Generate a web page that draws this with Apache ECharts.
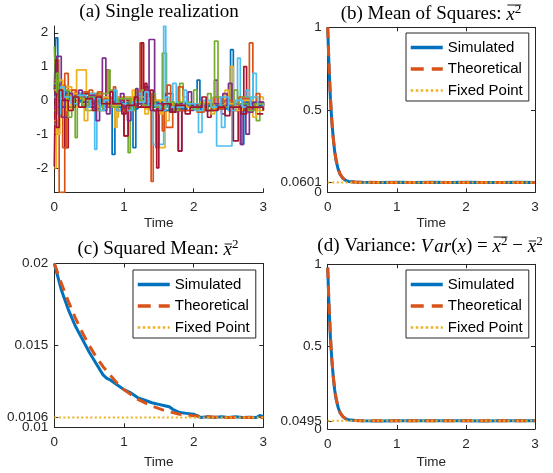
<!DOCTYPE html>
<html><head><meta charset="utf-8">
<script src="https://cdn.jsdelivr.net/npm/echarts@6/dist/echarts.min.js"></script>
<style>html,body{margin:0;padding:0;background:#fff}#c{width:553px;height:473px}</style>
</head><body><div id="c"></div>
<script>
// ---------- Panel (a): realizations (step data [time, value]) ----------
const realBlue1 = [[0,0.3],[0.02,1.85],[0.05,0.4],[0.15,0.1],[0.3,0.2],[0.45,0.0],[0.6,-0.1],[0.7,0.05],[0.83,-1.6],[0.87,-0.1],[1.0,-0.05],[1.13,-1.4],[1.17,-0.2],[1.4,-0.3],[1.46,-1.4],[1.5,-0.2],[1.7,-0.15],[2.05,0.6],[2.09,-0.15],[2.3,-0.1],[2.53,1.5],[2.57,-0.2],[2.68,-1.3],[2.72,-0.1],[3,-0.1]];
const realOrange1 = [[0,0.4],[0.07,-2.72],[0.15,0.8],[0.2,0.3],[0.3,0.1],[0.5,0.3],[0.55,0.0],[0.75,0.9],[0.79,0.1],[1.0,-1.05],[1.06,-0.1],[1.23,1.7],[1.28,-0.2],[1.39,-2.4],[1.42,-0.3],[1.6,-0.8],[1.7,-0.1],[1.9,-0.2],[2.2,-0.1],[2.8,1.7],[2.85,-0.1],[3,-0.05]];
const realYellow1 = [[0,-2.0],[0.03,1.2],[0.07,0.0],[0.2,0.3],[0.32,0.9],[0.46,0.2],[0.6,0.0],[0.87,-0.8],[0.9,-0.1],[1.15,0.3],[1.2,0.0],[1.47,-1.4],[1.59,-0.2],[1.8,-0.1],[2.2,-0.3],[2.3,-0.1],[2.52,1.0],[2.57,-0.1],[2.8,0.1],[3,0.0]];
const realPurple1 = [[0,0.3],[0.03,1.3],[0.1,0.2],[0.25,0.1],[0.5,-0.1],[0.69,1.25],[0.74,0.0],[0.9,-0.2],[1.1,0.1],[1.36,1.8],[1.44,-0.1],[1.6,-0.2],[1.78,-1.5],[1.83,-0.2],[2.1,-0.1],[2.3,0.6],[2.34,-0.2],[2.5,0.5],[2.55,-0.1],[2.67,-1.3],[2.71,-0.1],[3,-0.1]];
const realGreen1 = [[0,1.6],[0.02,0.4],[0.1,0.1],[0.3,-1.1],[0.33,0.0],[0.5,0.2],[0.77,0.9],[0.8,0.0],[1.06,-1.55],[1.09,-0.1],[1.3,-0.2],[1.55,1.4],[1.61,-0.1],[1.8,0.5],[1.85,-0.2],[2.1,-0.1],[2.3,1.75],[2.35,-0.2],[2.6,-0.1],[2.9,-0.6],[2.95,-0.2],[3,-0.1]];
const realCyan1 = [[0,-0.2],[0.05,0.3],[0.15,0.0],[0.3,0.2],[0.58,-1.45],[0.61,0.0],[0.8,-0.2],[1.0,0.1],[1.2,-0.2],[1.42,-1.3],[1.57,2.2],[1.6,-0.2],[1.8,-0.1],[2.07,-0.95],[2.12,-0.1],[2.33,-1.35],[2.55,-0.1],[2.63,1.25],[2.67,0.0],[2.85,0.8],[2.9,-0.1],[3,-0.1]];
const realRed1 = [[0,-1.95],[0.02,1.2],[0.05,0.2],[0.15,-1.4],[0.2,0.1],[0.4,0.2],[0.5,-0.1],[0.9,0.0],[1.0,-1.05],[1.06,-0.2],[1.25,1.7],[1.28,-0.1],[1.47,-2.0],[1.5,-0.2],[1.78,-1.5],[1.83,-0.2],[2.1,-0.3],[2.3,-0.2],[2.57,-1.2],[2.64,-0.3],[2.72,1.0],[2.76,-0.2],[2.9,-0.4],[3,-0.4]];
const realBlue2 = [[0,0.2],[0.1,0.15],[0.2,0.1],[0.3,0.05],[0.4,0.0],[0.5,-0.02],[0.6,-0.05],[0.8,-0.08],[1.0,-0.1],[1.2,-0.12],[1.4,-0.15],[1.6,-0.18],[1.8,-0.2],[2.0,-0.18],[2.2,-0.15],[2.4,-0.12],[2.6,-0.1],[2.8,-0.08],[3,-0.05]];
const realOrange2 = [[0,0.1],[0.12,-1.4],[0.18,0.2],[0.3,0.0],[0.62,0.25],[0.68,-0.2],[0.9,-0.3],[1.15,0.1],[1.2,-0.1],[1.55,-0.9],[1.58,-0.2],[1.78,0.4],[1.85,-0.1],[2.3,0.1],[2.35,-0.2],[2.6,-0.3],[2.65,0.1],[2.75,-0.1],[2.9,0.2],[2.95,-0.1],[3,-0.1]];
const realYellow2 = [[0,-0.6],[0.05,-1.0],[0.08,0.4],[0.25,-0.2],[0.4,0.1],[0.55,-0.3],[0.7,0.0],[0.88,-0.5],[0.92,0.1],[1.3,-0.4],[1.35,0.0],[1.6,-0.6],[1.65,-0.1],[2.05,-0.3],[2.15,-0.1],[2.45,0.3],[2.5,-0.1],[2.9,-0.3],[3,-0.2]];
const realPurple2 = [[0,-0.2],[0.1,-0.5],[0.2,0.1],[0.4,-0.2],[0.6,-0.6],[0.65,0.0],[0.9,-0.3],[1.05,-0.6],[1.1,0.0],[1.3,0.4],[1.35,-0.2],[1.6,0.2],[1.7,-0.3],[2.0,-0.1],[2.4,-0.4],[2.45,-0.1],[2.75,-1.0],[2.8,-0.2],[3,-0.3]];
const realGreen2 = [[0,0.5],[0.05,0.0],[0.2,-0.5],[0.25,0.1],[0.45,-0.3],[0.55,0.0],[0.8,0.3],[0.85,-0.1],[1.25,0.3],[1.3,-0.1],[1.5,-0.2],[1.75,-0.1],[2.0,0.3],[2.05,-0.1],[2.2,0.2],[2.25,-0.2],[2.7,0.1],[2.8,-0.2],[3,-0.2]];
const realCyan2 = [[0,-0.7],[0.03,0.2],[0.2,0.1],[0.4,-0.1],[0.7,0.1],[0.9,-0.3],[0.95,0.0],[1.2,0.2],[1.25,-0.1],[1.7,0.5],[1.75,-0.2],[2.0,-0.1],[2.4,-0.8],[2.45,-0.1],[2.75,0.3],[2.8,-0.2],[3,-0.2]];
const realRed2 = [[0,0.0],[0.1,-0.2],[0.3,0.1],[0.5,-0.2],[0.7,-0.3],[0.75,0.0],[1.1,-0.2],[1.3,0.5],[1.33,-0.2],[1.55,-0.3],[1.9,-0.2],[2.2,-0.5],[2.25,-0.2],[2.5,-0.3],[2.8,-0.1],[3,-0.2]];
const realBlue3 = [[0,0.15],[0.05,0.35],[0.1,0.1],[0.15,0.25],[0.22,0.05],[0.3,0.15],[0.38,-0.05],[0.45,0.1],[0.55,-0.1],[0.62,0.05],[0.7,-0.15],[0.8,-0.05],[0.9,-0.2],[1.0,-0.1],[1.1,-0.25],[1.2,-0.1],[1.3,-0.2],[1.45,-0.05],[1.55,-0.3],[1.65,-0.15],[1.75,-0.25],[1.9,-0.1],[2.0,-0.2],[2.1,-0.3],[2.2,-0.15],[2.35,-0.25],[2.5,-0.1],[2.6,-0.2],[2.75,-0.05],[2.85,-0.15],[3,-0.1]];
const realOrange3 = [[0,0.6],[0.04,0.2],[0.1,0.45],[0.16,0.0],[0.25,0.3],[0.32,0.1],[0.42,0.25],[0.5,-0.05],[0.58,0.15],[0.66,-0.1],[0.72,0.05],[0.85,0.4],[0.88,-0.1],[0.98,-0.3],[1.08,0.0],[1.18,-0.2],[1.35,0.1],[1.45,-0.15],[1.62,0.45],[1.67,-0.1],[1.8,-0.3],[1.95,-0.15],[2.05,-0.35],[2.15,-0.1],[2.3,-0.25],[2.45,0.0],[2.55,-0.2],[2.7,0.05],[2.8,-0.25],[2.92,-0.05],[3,-0.15]];
const realYellow3 = [[0,0.3],[0.06,0.6],[0.12,0.1],[0.18,-0.3],[0.24,0.2],[0.36,0.05],[0.43,-0.6],[0.48,0.0],[0.6,-0.2],[0.7,0.1],[0.78,-0.15],[0.95,0.1],[1.02,-0.2],[1.12,0.3],[1.17,-0.1],[1.3,-0.25],[1.4,0.0],[1.52,-0.4],[1.56,-0.1],[1.7,-0.2],[1.85,0.1],[1.9,-0.2],[2.1,-0.05],[2.25,-0.4],[2.3,-0.1],[2.62,-0.3],[2.7,0.0],[2.85,-0.5],[2.9,-0.1],[3,-0.1]];
const realPurple3 = [[0,0.0],[0.04,0.5],[0.08,-0.2],[0.15,0.2],[0.26,-0.1],[0.35,0.3],[0.4,-0.05],[0.52,0.15],[0.58,-0.25],[0.66,0.0],[0.75,-0.4],[0.8,-0.1],[0.95,0.2],[1.0,-0.2],[1.17,0.35],[1.2,-0.1],[1.38,-0.3],[1.48,-0.1],[1.68,-0.35],[1.75,-0.1],[1.92,0.25],[1.97,-0.15],[2.18,-0.3],[2.26,-0.1],[2.42,0.2],[2.48,-0.2],[2.6,-0.1],[2.78,-0.35],[2.85,-0.05],[3,-0.2]];
const realGreen3 = [[0,-0.3],[0.03,0.8],[0.06,0.1],[0.14,0.3],[0.2,-0.2],[0.28,0.1],[0.4,-0.15],[0.5,0.1],[0.62,-0.3],[0.7,0.0],[0.82,-0.2],[0.92,0.05],[1.1,-0.3],[1.15,0.0],[1.28,-0.15],[1.4,0.2],[1.45,-0.2],[1.6,-0.05],[1.72,-0.3],[1.78,-0.05],[1.95,-0.25],[2.08,-0.1],[2.2,-0.3],[2.28,0.1],[2.4,-0.2],[2.58,0.3],[2.63,-0.1],[2.78,-0.3],[2.88,-0.1],[3,-0.15]];
const realCyan3 = [[0,0.1],[0.04,-0.4],[0.09,0.4],[0.14,0.1],[0.24,-0.1],[0.34,0.15],[0.46,-0.2],[0.52,0.05],[0.66,-0.3],[0.72,0.0],[0.86,0.3],[0.9,-0.1],[1.04,-0.3],[1.12,-0.05],[1.3,0.25],[1.35,-0.15],[1.52,-0.3],[1.6,0.1],[1.65,-0.2],[1.86,0.3],[1.9,-0.1],[2.02,-0.3],[2.14,0.0],[2.25,-0.2],[2.38,0.1],[2.5,-0.3],[2.6,0.0],[2.7,-0.2],[2.82,0.1],[2.92,-0.2],[3,-0.1]];
const realRed3 = [[0,0.2],[0.03,-0.8],[0.07,0.3],[0.12,0.0],[0.2,-0.3],[0.27,0.1],[0.35,-0.2],[0.45,0.05],[0.55,-0.3],[0.6,0.1],[0.68,-0.1],[0.8,0.25],[0.84,-0.1],[0.97,-0.4],[1.03,-0.15],[1.15,0.1],[1.2,-0.2],[1.38,0.3],[1.42,-0.3],[1.56,-0.1],[1.66,-0.35],[1.74,-0.15],[1.88,-0.4],[1.95,-0.2],[2.12,0.1],[2.18,-0.3],[2.35,-0.2],[2.45,-0.45],[2.52,-0.2],[2.68,-0.4],[2.76,-0.2],[3,-0.3]];

// ---------- Panels (b) and (d): time grid and values ----------
const tDecay = [0,0.02,0.04,0.06,0.08,0.10,0.12,0.15,0.18,0.22,0.26,0.30,0.40,0.50,0.75,1.00,1.25,1.50,1.75,2.00,2.25,2.50,2.75,3.00];
const bSim  = [1.0,0.75,0.56,0.43,0.33,0.25,0.195,0.142,0.108,0.085,0.072,0.066,0.062,0.061,0.0598,0.0603,0.0599,0.0602,0.0600,0.0603,0.0598,0.0601,0.0602,0.0600];
const bTheo = [1.0,0.76,0.57,0.43,0.33,0.255,0.20,0.145,0.11,0.086,0.073,0.066,0.0615,0.0605,0.0601,0.0601,0.0601,0.0601,0.0601,0.0601,0.0601,0.0601,0.0601,0.0601];
const bFixed = 0.0601;
const dSim  = [0.98,0.735,0.55,0.42,0.32,0.24,0.185,0.132,0.098,0.075,0.062,0.056,0.051,0.0500,0.0493,0.0497,0.0494,0.0496,0.0495,0.0497,0.0493,0.0496,0.0495,0.0494];
const dTheo = [0.98,0.745,0.56,0.42,0.32,0.245,0.19,0.135,0.099,0.075,0.062,0.056,0.051,0.0499,0.0496,0.0495,0.0495,0.0495,0.0495,0.0495,0.0495,0.0495,0.0495,0.0495];
const dFixed = 0.0495;

// ---------- Panel (c) ----------
const tCTheo = [0,0.1,0.2,0.3,0.4,0.5,0.6,0.7,0.8,0.9,1.0,1.2,1.4,1.6,1.8,2.0,2.2,2.4,2.6,2.8,3.0];
const cTheo  = [0.0200,0.0188,0.0177,0.0167,0.0158,0.0150,0.0143,0.0137,0.0132,0.0127,0.0123,0.0117,0.0113,0.0110,0.0108,0.0107,0.01065,0.0106,0.0106,0.0106,0.0106];
const tCSim  = [0,0.1,0.2,0.3,0.4,0.5,0.6,0.7,0.75,0.8,0.9,1.0,1.1,1.2,1.3,1.4,1.5,1.6,1.65,1.7,1.8,1.9,2.0,2.1,2.2,2.3,2.4,2.5,2.6,2.7,2.8,2.9,2.95,3.0];
const cSim   = [0.0200,0.0184,0.0172,0.0162,0.0154,0.0146,0.0139,0.0132,0.0130,0.0129,0.0126,0.0123,0.0121,0.0118,0.01165,0.0115,0.0114,0.0113,0.01125,0.0111,0.0109,0.01085,0.0108,0.0106,0.01065,0.0106,0.01065,0.0106,0.01065,0.0106,0.01062,0.0106,0.01072,0.01065];
const cFixed = 0.0106;

// tick values (left labels exclude the fixed point, which gets its own label)
const aYTicks = [-2,-1,0,1,2];
const bYTicks = [0,0.0601,0.5,1];
const cYTicks = [0.01,0.0106,0.015,0.02];
const dYTicks = [0,0.0495,0.5,1];
const bYLabels = [0,0.5,1];
const cYLabels = [0.01,0.015,0.02];
const dYLabels = [0,0.5,1];
const legendNames = ['Simulated','Theoretical','Fixed Point'];

// ---------- styling ----------
const C = ['#0072BD','#D95319','#EDB120','#7E2F8E','#77AC30','#4DBEEE','#A2142F'];
const AX = '#262626';
const SANS = '"Liberation Sans", Arial, sans-serif';
const SERIF = '"Liberation Serif", "DejaVu Serif", serif';
const grids = [
  {left:54.3, top:26,    width:209,   height:166.3},
  {left:327.7,top:27.3,  width:207.3, height:165},
  {left:54.3, top:263.5, width:209,   height:163.8},
  {left:327.7,top:264.3, width:207.3, height:164.7}
];
const lbl = {fontFamily:SANS, fontSize:13.5, color:AX};

function xBottom(g, gap){
  return {type:'value', gridIndex:g, position:'bottom', min:0, max:3, interval:1,
    name:'Time', nameLocation:'middle', nameGap:gap, nameTextStyle:lbl,
    axisLine:{onZero:false, lineStyle:{color:AX,width:1}},
    axisTick:{inside:true,length:4,lineStyle:{color:AX,width:1}},
    axisLabel:Object.assign({margin:8}, lbl), splitLine:{show:false}};
}
function xTop(g){
  return {type:'value', gridIndex:g, position:'top', min:0, max:3, interval:1,
    axisLine:{onZero:false, lineStyle:{color:AX,width:1}},
    axisTick:{inside:true,length:4,lineStyle:{color:AX,width:1}},
    axisLabel:{show:false}, splitLine:{show:false}};
}
function yLeft(g, mn, mx, ticks, labels){
  return {type:'value', gridIndex:g, position:'left', min:mn, max:mx,
    axisLine:{show:true, onZero:false, lineStyle:{color:AX,width:1}},
    axisTick:{show:true, inside:true,length:4,lineStyle:{color:AX,width:1}, customValues:ticks},
    axisLabel:Object.assign({margin:6, customValues:labels}, lbl), splitLine:{show:false}};
}
function yFixedLabel(g, mn, mx, v){
  return {type:'value', gridIndex:g, position:'left', offset:0, min:mn, max:mx,
    axisLine:{show:false}, axisTick:{show:false},
    axisLabel:Object.assign({margin:6, customValues:[v]}, lbl), splitLine:{show:false}};
}
function yRight(g, mn, mx, ticks){
  return {type:'value', gridIndex:g, position:'right', min:mn, max:mx,
    axisLine:{show:true, onZero:false, lineStyle:{color:AX,width:1}},
    axisTick:{show:true, inside:true,length:4,lineStyle:{color:AX,width:1}, customValues:ticks},
    axisLabel:{show:false}, splitLine:{show:false}};
}
function zip(t, v){ return t.map((x,i)=>[x, v[i]]); }

const series = [];
const realizations = [realBlue1, realOrange1, realYellow1, realPurple1, realGreen1, realCyan1, realRed1,
                      realBlue2, realOrange2, realYellow2, realPurple2, realGreen2, realCyan2, realRed2,
                      realBlue3, realOrange3, realYellow3, realPurple3, realGreen3, realCyan3, realRed3];
realizations.forEach((d,i)=>{
  series.push({type:'line', name:'real'+i, xAxisIndex:0, yAxisIndex:0, data:d, step:'end',
    showSymbol:false, symbol:'none', lineStyle:{color:C[i%7], width: i===7 ? 2.2 : 1.7}, itemStyle:{color:C[i%7]}, z:2});
});
function trio(xi, yi, simT, sim, theoT, theo, fixed){
  series.push({type:'line', name:'Simulated', xAxisIndex:xi, yAxisIndex:yi, data:zip(simT,sim),
    showSymbol:false, symbol:'none', color:C[0], lineStyle:{color:C[0], width:3}, itemStyle:{color:C[0]}});
  series.push({type:'line', name:'Theoretical', xAxisIndex:xi, yAxisIndex:yi, data:zip(theoT,theo),
    showSymbol:false, symbol:'none', color:C[1], lineStyle:{color:C[1], width:3, type:[11,7]}, itemStyle:{color:C[1]}});
  series.push({type:'line', name:'Fixed Point', xAxisIndex:xi, yAxisIndex:yi, data:[[0,fixed],[3,fixed]],
    showSymbol:false, symbol:'none', color:C[2], lineStyle:{color:C[2], width:2, type:[2,2.5]}, itemStyle:{color:C[2]}});
}
trio(1,1,tDecay,bSim,tDecay,bTheo,bFixed);
trio(2,2,tCSim,cSim,tCTheo,cTheo,cFixed);
trio(3,3,tDecay,dSim,tDecay,dTheo,dFixed);

function legend(left, top){
  return {data:[
      {name:legendNames[0], lineStyle:{width:3.5}},
      {name:legendNames[1], lineStyle:{width:3.5, type:[13,8]}},
      {name:legendNames[2], lineStyle:{width:2.5, type:[2.5,2.5]}}],
    orient:'vertical', left, top, padding:[7,6,3,3], itemWidth:32, itemHeight:14, itemGap:6.5,
    borderColor:AX, borderWidth:1, backgroundColor:'#fff', selectedMode:false,
    itemStyle:{opacity:0},
    textStyle:{fontFamily:SANS, fontSize:15, color:'#000', lineHeight:14}};
}

// ---------- titles (text pieces with math decorations) ----------
const FS = 19, SUP = 13;
const mctx = document.createElement('canvas').getContext('2d');
function fontStr(p){ return (p.i ? 'italic ' : '') + (p.sup ? SUP : FS) + 'px ' + SERIF; }
function buildTitle(pieces, cx, base){
  const widths = pieces.map(p => { mctx.font = fontStr(p); return mctx.measureText(p.t).width + (p.pad || 0); });
  const total = widths.reduce((a,b)=>a+b,0);
  let x = cx - total/2;
  const els = [];
  const groups = {};
  pieces.forEach((p,k)=>{
    els.push({type:'text', x:x, y: base - (p.sup ? 8 : 0), silent:true,
      style:{text:p.t, font:fontStr(p), fill:'#000', textAlign:'left', textVerticalAlign:'bottom', align:'left', verticalAlign:'bottom'}});
    if (p.ov !== undefined){
      const g = groups[p.ov] || (groups[p.ov] = {x1:x, x2:x+widths[k], y:p.ovY});
      g.x2 = x + widths[k];
    }
    x += widths[k];
  });
  Object.keys(groups).forEach(key=>{
    const g = groups[key];
    els.push({type:'line', silent:true, shape:{x1:g.x1+1, y1:base+g.y, x2:g.x2, y2:base+g.y}, style:{stroke:'#000', lineWidth:0.9}});
  });
  return els;
}
const OV = -19, BAR = -15;
const graphics = [].concat(
  buildTitle([{t:'(a) Single realization'}], 159, 22),
  buildTitle([{t:'(b) Mean of Squares: '},{t:'x',i:1,ov:1,ovY:OV},{t:'2',sup:1,ov:1,ovY:OV}], 431, 24),
  buildTitle([{t:'(c) Squared Mean: '},{t:'x',i:1,ov:1,ovY:BAR},{t:'2',sup:1}], 158, 259),
  buildTitle([{t:'(d) Variance: '},{t:'V',i:1,pad:2},{t:'ar',i:1},{t:'('},{t:'x',i:1},{t:')'},{t:' = '},
              {t:'x',i:1,ov:1,ovY:OV},{t:'2',sup:1,ov:1,ovY:OV},{t:' \u2212 '},{t:'x',i:1,ov:2,ovY:BAR},{t:'2',sup:1}], 430, 256)
);

const chart = echarts.init(document.getElementById('c'), null, {renderer:'canvas'});
chart.setOption({
  animation:false,
  backgroundColor:'#fff',
  grid: grids,
  xAxis:[xBottom(0,24), xBottom(1,24), xBottom(2,28), xBottom(3,26), xTop(1), xTop(2), xTop(3)],
  yAxis:[yLeft(0,-2.72,2.2,aYTicks,aYTicks), yLeft(1,0,1,bYTicks,bYLabels), yLeft(2,0.01,0.02,cYTicks,cYLabels), yLeft(3,0,1,dYTicks,dYLabels),
         yRight(1,0,1,bYTicks), yRight(2,0.01,0.02,cYTicks), yRight(3,0,1,dYTicks),
         yFixedLabel(1,0,1,bFixed), yFixedLabel(2,0.01,0.02,cFixed), yFixedLabel(3,0,1,dFixed)],
  legend:[legend(406,33), legend(133,270), legend(406,270)],
  series: series,
  graphic: graphics
});
</script></body></html>
